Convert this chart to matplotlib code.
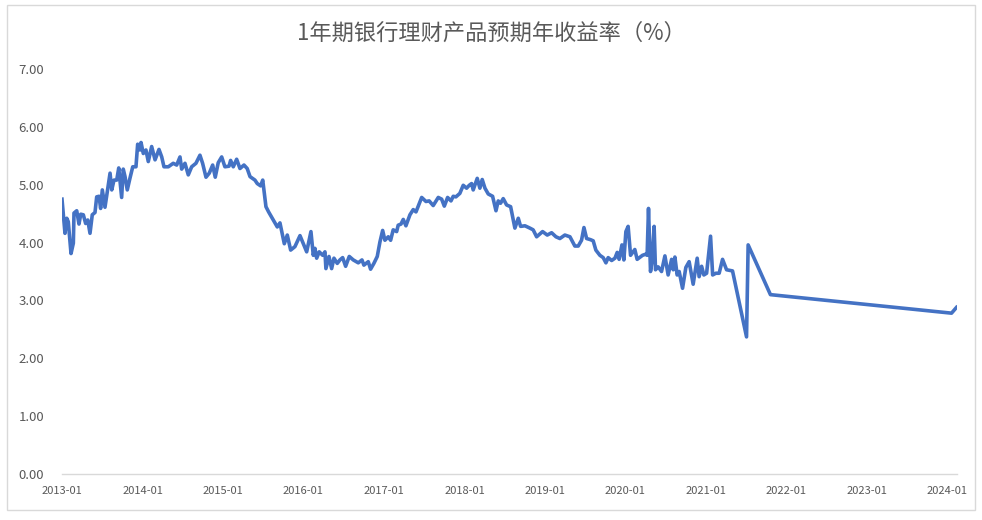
import matplotlib.pyplot as plt
from matplotlib.patches import Rectangle

plt.rcParams['font.family'] = ['Noto Sans CJK SC', 'DejaVu Sans']

years = [
    2013.000, 2013.037, 2013.059, 2013.078, 2013.112, 2013.141, 2013.149, 2013.183,
    2013.211, 2013.233, 2013.265, 2013.294, 2013.320, 2013.348, 2013.376, 2013.410,
    2013.431, 2013.460, 2013.480, 2013.501, 2013.534, 2013.563, 2013.597, 2013.618,
    2013.646, 2013.680, 2013.705, 2013.741, 2013.761, 2013.783, 2013.811, 2013.844,
    2013.879, 2013.919, 2013.940, 2013.969, 2013.982, 2014.010, 2014.043, 2014.072,
    2014.114, 2014.156, 2014.205, 2014.239, 2014.267, 2014.321, 2014.382, 2014.425,
    2014.466, 2014.487, 2014.528, 2014.569, 2014.611, 2014.664, 2014.714, 2014.747,
    2014.789, 2014.830, 2014.872, 2014.904, 2014.941, 2014.984, 2015.024, 2015.075,
    2015.095, 2015.128, 2015.170, 2015.211, 2015.261, 2015.301, 2015.336, 2015.397,
    2015.426, 2015.468, 2015.494, 2015.534, 2015.567, 2015.625, 2015.675, 2015.708,
    2015.762, 2015.799, 2015.841, 2015.894, 2015.957, 2016.040, 2016.093, 2016.122,
    2016.143, 2016.164, 2016.196, 2016.239, 2016.267, 2016.279, 2016.317, 2016.350,
    2016.379, 2016.420, 2016.453, 2016.487, 2016.524, 2016.569, 2016.619, 2016.681,
    2016.727, 2016.751, 2016.805, 2016.834, 2016.875, 2016.917, 2016.950, 2016.984,
    2017.012, 2017.054, 2017.083, 2017.115, 2017.158, 2017.177, 2017.212, 2017.240,
    2017.273, 2017.323, 2017.364, 2017.398, 2017.469, 2017.522, 2017.562, 2017.612,
    2017.675, 2017.717, 2017.750, 2017.791, 2017.833, 2017.861, 2017.894, 2017.943,
    2017.985, 2018.027, 2018.060, 2018.089, 2018.109, 2018.159, 2018.192, 2018.221,
    2018.255, 2018.296, 2018.350, 2018.392, 2018.420, 2018.449, 2018.482, 2018.524,
    2018.574, 2018.627, 2018.669, 2018.698, 2018.752, 2018.813, 2018.854, 2018.897,
    2018.971, 2019.029, 2019.083, 2019.137, 2019.186, 2019.248, 2019.311, 2019.372,
    2019.414, 2019.455, 2019.485, 2019.518, 2019.567, 2019.600, 2019.633, 2019.683,
    2019.724, 2019.758, 2019.786, 2019.829, 2019.870, 2019.898, 2019.922, 2019.957,
    2019.981, 2020.006, 2020.034, 2020.064, 2020.117, 2020.146, 2020.213, 2020.254,
    2020.270, 2020.287, 2020.312, 2020.333, 2020.357, 2020.374, 2020.407, 2020.449,
    2020.491, 2020.531, 2020.574, 2020.594, 2020.615, 2020.643, 2020.668, 2020.710,
    2020.751, 2020.792, 2020.842, 2020.892, 2020.916, 2020.947, 2020.975, 2021.009,
    2021.058, 2021.084, 2021.124, 2021.165, 2021.207, 2021.257, 2021.331, 2021.505,
    2021.525, 2021.802, 2024.052, 2024.114,
]

# 1-year bank WMP expected annual yield (%)
rates = [
    4.75, 4.16, 4.42, 4.36, 3.81, 3.99, 4.51, 4.55,
    4.32, 4.49, 4.48, 4.33, 4.39, 4.16, 4.48, 4.52,
    4.79, 4.80, 4.59, 4.91, 4.61, 4.88, 5.20, 4.91,
    5.08, 5.08, 5.29, 4.78, 5.27, 5.14, 4.91, 5.11,
    5.31, 5.31, 5.70, 5.60, 5.73, 5.54, 5.60, 5.40,
    5.66, 5.43, 5.61, 5.48, 5.31, 5.31, 5.37, 5.34,
    5.48, 5.27, 5.37, 5.17, 5.31, 5.37, 5.51, 5.37,
    5.13, 5.20, 5.34, 5.13, 5.38, 5.48, 5.31, 5.32,
    5.42, 5.31, 5.44, 5.28, 5.34, 5.28, 5.14, 5.08,
    5.02, 4.98, 5.08, 4.62, 4.53, 4.39, 4.27, 4.34,
    3.98, 4.13, 3.87, 3.93, 4.12, 3.84, 4.19, 3.78,
    3.90, 3.73, 3.84, 3.78, 3.84, 3.55, 3.76, 3.55,
    3.73, 3.64, 3.70, 3.74, 3.59, 3.76, 3.70, 3.65,
    3.70, 3.61, 3.67, 3.54, 3.64, 3.76, 4.01, 4.21,
    4.04, 4.10, 4.04, 4.22, 4.19, 4.30, 4.32, 4.40,
    4.29, 4.48, 4.57, 4.53, 4.78, 4.71, 4.72, 4.64,
    4.78, 4.75, 4.63, 4.78, 4.72, 4.80, 4.79, 4.85,
    4.99, 4.94, 4.99, 5.02, 4.91, 5.11, 4.94, 5.09,
    4.94, 4.84, 4.80, 4.55, 4.72, 4.68, 4.76, 4.65,
    4.62, 4.25, 4.42, 4.28, 4.29, 4.25, 4.22, 4.10,
    4.19, 4.13, 4.17, 4.10, 4.07, 4.13, 4.10, 3.94,
    3.94, 4.04, 4.26, 4.07, 4.05, 4.03, 3.87, 3.78,
    3.74, 3.65, 3.74, 3.69, 3.73, 3.83, 3.71, 3.96,
    3.70, 4.19, 4.28, 3.78, 3.88, 3.71, 3.78, 3.80,
    3.78, 4.59, 3.50, 3.70, 4.28, 3.53, 3.58, 3.50,
    3.77, 3.44, 3.71, 3.53, 3.75, 3.44, 3.50, 3.21,
    3.57, 3.67, 3.28, 3.73, 3.41, 3.59, 3.44, 3.47,
    4.11, 3.44, 3.47, 3.47, 3.71, 3.53, 3.51, 2.37,
    3.96, 3.10, 2.78, 2.88,
]

tick_years = list(range(2013, 2025))
tick_labels = [f"{y}-01" for y in tick_years]
y_ticks = [0, 1, 2, 3, 4, 5, 6, 7]

fig = plt.figure(figsize=(9.82, 5.2), dpi=100)
# chart area border like Excel
fig.patches.append(Rectangle((7 / 982, 10 / 520), 968 / 982, 505 / 520,
                             transform=fig.transFigure, fill=False,
                             edgecolor='#D9D9D9', linewidth=1))

ax = fig.add_axes([62 / 982, 46 / 520, 895 / 982, 405 / 520])
ax.plot(years, rates, color='#4472C4', linewidth=2.6, solid_joinstyle='round')

ax.set_xlim(2013, 2024.12)
ax.set_ylim(0, 7)
ax.set_xticks(tick_years)
ax.set_xticklabels(tick_labels, fontsize=8, color='#595959')
ax.set_yticks(y_ticks)
ax.set_yticklabels([f"{v:.2f}" for v in y_ticks], fontsize=9.5, color='#595959')
ax.tick_params(axis='both', length=0)
ax.tick_params(axis='x', pad=9)
ax.tick_params(axis='y', pad=13)

for side in ['top', 'right', 'left']:
    ax.spines[side].set_visible(False)
ax.spines['bottom'].set_color('#D9D9D9')
ax.spines['bottom'].set_linewidth(1)

fig.text(0.5, 1 - 33 / 520, "1年期银行理财产品预期年收益率（%）", ha='center', va='center',
         fontsize=16, color='#595959')

fig.savefig('out.png', dpi=100)
